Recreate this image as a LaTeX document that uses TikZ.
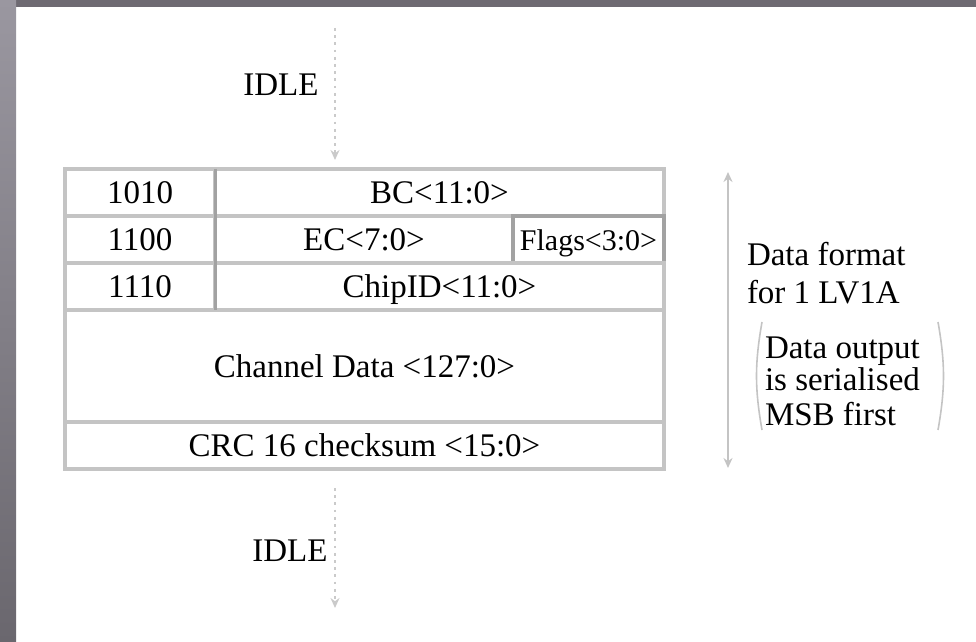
\documentclass[tikz,border=0pt]{standalone}
\usepackage{fontspec}
\setmainfont{Liberation Serif}
\usepackage{xcolor}
\usetikzlibrary{arrows.meta,positioning}

\definecolor{rulegray}{HTML}{C4C4C4}
\definecolor{divgray}{HTML}{A2A2A2}
\definecolor{flowgray}{HTML}{CACACA}
\definecolor{frametop}{HTML}{6E6A72}
\definecolor{framelight}{HTML}{9A97A0}
\definecolor{framedark}{HTML}{6A676E}

\begin{document}
\begin{tikzpicture}[
  x=0.5pt, y=-0.5pt,
  every node/.style={inner sep=0pt, outer sep=0pt, font=\fontsize{16.5}{19}\selectfont},
  cell/.style={draw=rulegray, line width=2.1pt, minimum height=23.5pt,
    text height=11pt, text depth=0pt},
  tag/.style={cell, minimum width=75pt},
  wide/.style={cell, minimum width=224.5pt},
  flagbox/.style={cell, draw=divgray, minimum width=75.5pt, font=\fontsize{15}{17}\selectfont},
  flow/.style={draw=flowgray, line width=0.8pt, dash pattern=on 1.4pt off 2.2pt,
    -{Stealth[length=5pt, width=4.5pt]}},
  span/.style={draw=rulegray, line width=1pt,
    {Stealth[length=5pt, width=4.5pt]}-{Stealth[length=5pt, width=4.5pt]}},
  paren/.style={draw=rulegray, line width=0.8pt}
]
  \useasboundingbox (0,0) rectangle (976,642);
  \fill[frametop] (0,0) rectangle (976,7);
  \shade[top color=framelight, bottom color=framedark] (0,0) rectangle (16,642);

  \node[tag] (tagA) at (140,192.5) {1010};
  \node[wide, right=0pt of tagA] (bc) {BC<11:0>};
  \node[tag, below=0pt of tagA] (tagB) {1100};
  \node[cell, minimum width=149pt, right=0pt of tagB] (ec) {EC<7:0>};
  \node[flagbox, right=0pt of ec] (flags) {Flags<3:0>};
  \node[tag, below=0pt of tagB] (tagC) {1110};
  \node[wide, right=0pt of tagC] (chip) {ChipID<11:0>};
  \node[cell, minimum width=299.5pt, minimum height=56pt,
    below right=0pt and 0pt of tagC.south west] (chan) {Channel Data <127:0>};
  \node[cell, minimum width=299.5pt, below=0pt of chan] (crc) {CRC 16 checksum <15:0>};
  \draw[divgray, line width=1.5pt] (tagA.north east) -- (tagC.south east);

  \node (idleIn) at (281,85) {IDLE};
  \node (idleOut) at (290,551) {IDLE};
  \coordinate (inStart) at (335,28);
  \coordinate (outEnd) at (335,608);
  \draw[flow, shorten >=4.5pt] (inStart) -- (inStart |- bc.north);
  \draw[flow, shorten <=9.5pt] (outEnd |- crc.south) -- (outEnd);

  \coordinate (spanTop) at (728,172);
  \coordinate (spanBot) at (728,468);
  \draw[span] (spanTop) -- (spanBot);

  \node[anchor=west, align=left] (fmt) at (747,273) {Data format\\for 1 LV1A};
  \node[anchor=west, align=left] (note) at (765,381)
    {Data output\\[-3pt]is serialised\\[-1.5pt]MSB first};
  \draw[paren] (762,322) to[bend right=10] (762,430);
  \draw[paren] (938,322) to[bend left=10] (938,430);
\end{tikzpicture}
\end{document}
